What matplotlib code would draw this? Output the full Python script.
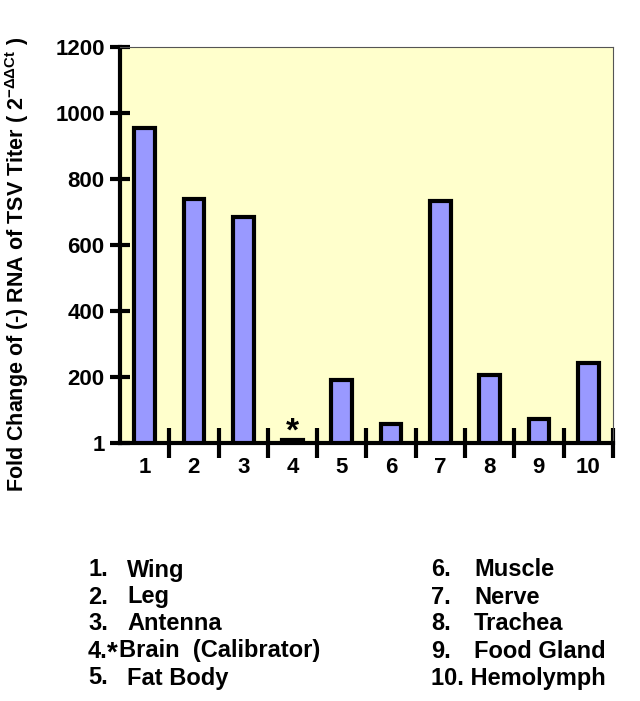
import numpy as np
import matplotlib.pyplot as plt

plt.rcParams['font.family'] = ['Liberation Sans', 'DejaVu Sans']
plt.rcParams['mathtext.fontset'] = 'custom'
plt.rcParams['mathtext.rm'] = 'Liberation Sans'
plt.rcParams['mathtext.bf'] = 'Liberation Sans:bold'

positions = [1, 2, 3, 4, 5, 6, 7, 8, 9, 10]
fold_change = [955, 740, 685, 8, 190, 58, 732, 205, 72, 242]
tissues = ['Wing', 'Leg', 'Antenna', 'Brain  (Calibrator)', 'Fat Body',
           'Muscle', 'Nerve', 'Trachea', 'Food Gland', 'Hemolymph']
ytick_vals = [0, 200, 400, 600, 800, 1000, 1200]
ytick_labels = ['1', '200', '400', '600', '800', '1000', '1200']

fig = plt.figure(figsize=(6.4, 7.01), dpi=100)
ax = fig.add_axes([0.1875, 0.368, 0.770, 0.565])
ax.set_facecolor('#FFFFCC')

x = np.array(positions)
ax.bar(x, fold_change, width=0.42, color='#9999FF', edgecolor='black',
       linewidth=3, zorder=3)
ax.text(4, fold_change[3] - 22, '*', ha='center', va='bottom',
        fontsize=24, fontweight='bold')

ax.set_xlim(0.5, 10.5)
ax.set_ylim(0, 1200)
ax.set_yticks(ytick_vals)
ax.set_yticklabels(ytick_labels, fontsize=16, fontweight='bold')
ax.tick_params(axis='y', direction='inout', length=14, width=3, pad=4)

# category ticks sit between bars
ax.set_xticks(np.arange(1.5, 11, 1), minor=False)
ax.set_xticklabels([])
ax.tick_params(axis='x', direction='inout', length=22, width=3)
ax.set_xticks(x, minor=True)
ax.set_xticklabels([str(p) for p in positions], minor=True,
                   fontsize=16, fontweight='bold')
ax.tick_params(axis='x', which='minor', length=0, pad=10)

ax.spines['left'].set_linewidth(3)
ax.spines['bottom'].set_linewidth(3)
ax.spines['top'].set_linewidth(0.8)
ax.spines['right'].set_linewidth(0.8)
ax.spines['top'].set_color('#555555')
ax.spines['right'].set_color('#555555')

ax.set_ylabel(r'Fold Change of (-) RNA of TSV Titer ( 2$^{\mathbf{-\Delta\Delta Ct}}$ )',
              fontsize=15.5, fontweight='bold')
ax.yaxis.set_label_coords(-0.18, 0.45)

# tissue key below the chart
fs = 17
for i, (p, name) in enumerate(zip(positions, tissues)):
    col = i // 5
    row = i % 5
    y = 570 + row * 27
    xn = 88 if col == 0 else 431
    xt = 127 if col == 0 else 474
    yf = 1 - y / 701
    if p == 4:
        fig.text(xn / 640, yf, '4.', fontsize=fs, fontweight='bold', va='center')
        fig.text(107 / 640, yf - 0.004, '*', fontsize=fs + 3, fontweight='bold', va='center')
        fig.text(119 / 640, yf, name, fontsize=fs, fontweight='bold', va='center')
    elif p == 10:
        fig.text(xn / 640, yf, '10. ' + name, fontsize=fs, fontweight='bold', va='center')
    else:
        fig.text(xn / 640, yf, f'{p}.', fontsize=fs, fontweight='bold', va='center')
        fig.text(xt / 640, yf, name, fontsize=fs, fontweight='bold', va='center')

fig.savefig('out.png', dpi=100)
